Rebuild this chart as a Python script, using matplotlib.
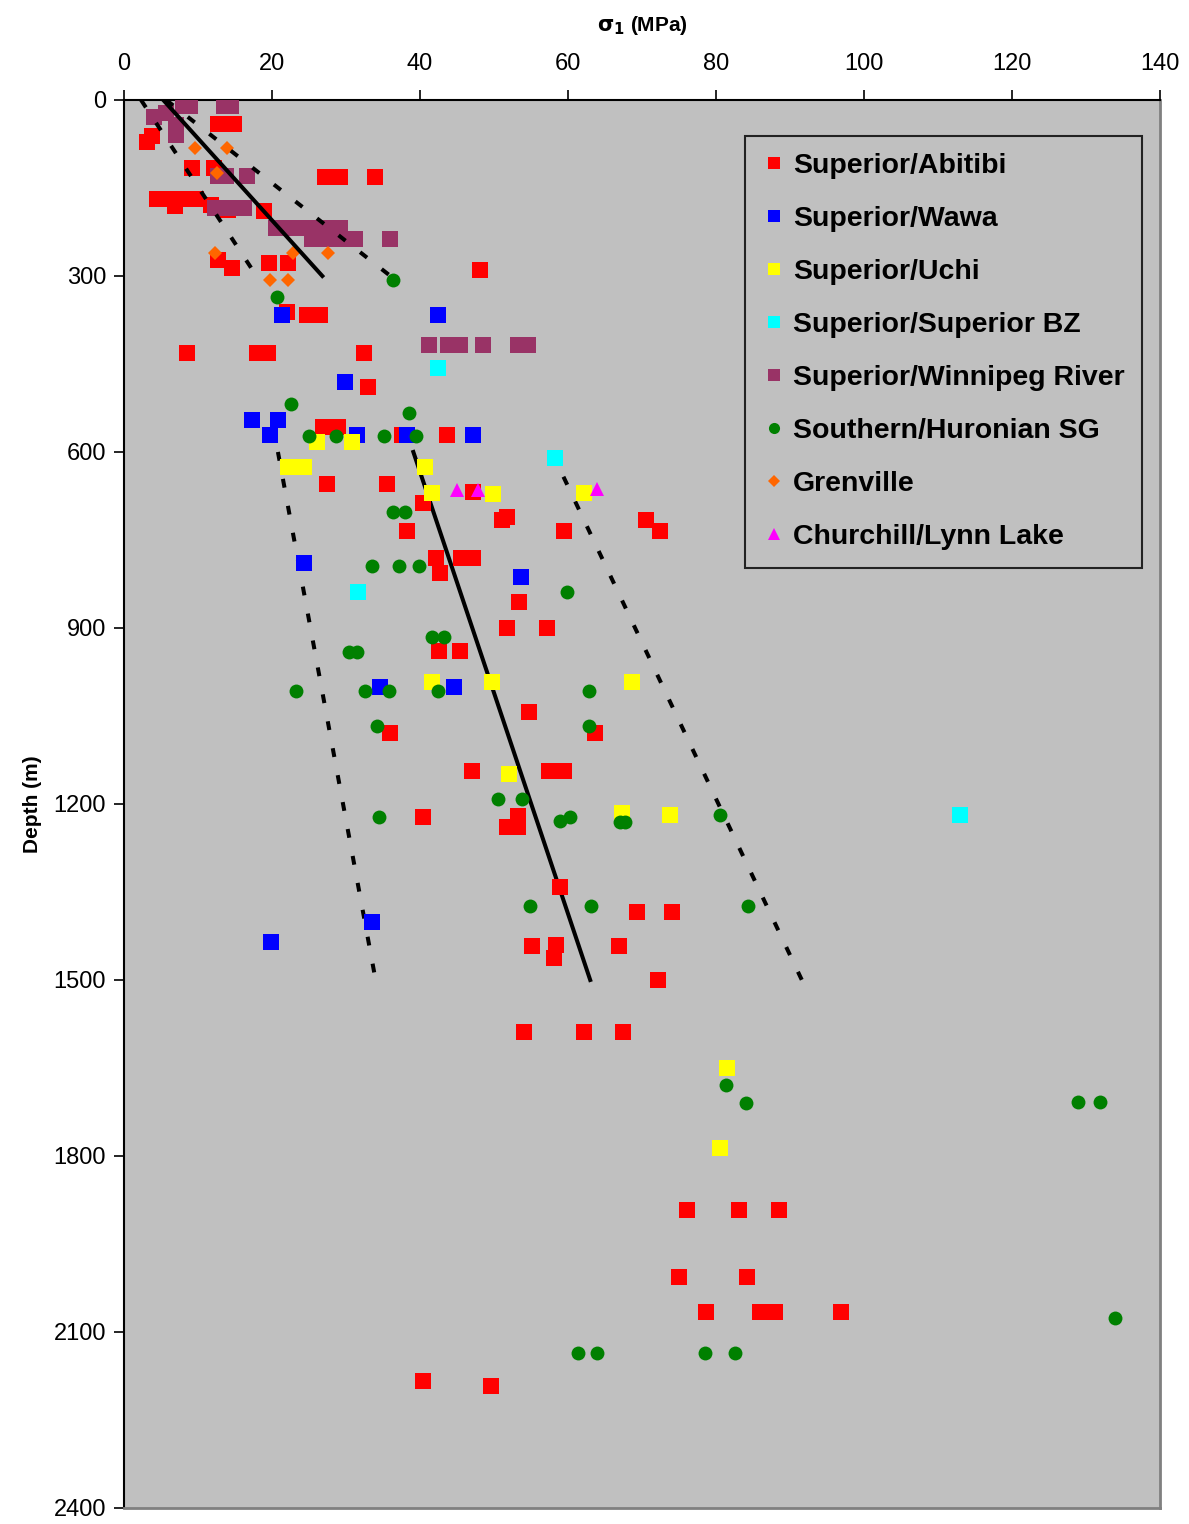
import matplotlib
matplotlib.use("Agg")
import matplotlib.pyplot as plt
from matplotlib.lines import Line2D

# sigma_1 (MPa) and depth (m) per region
abitibi_s = [12.7, 14.9, 3.8, 3.1, 9.2, 12.2, 27.2, 29.2, 33.9, 4.5, 6.6, 8.5, 9.7, 6.9, 11.8,
             14.1, 18.9, 12.7, 14.6, 19.6, 22.2, 48.1, 22.0, 24.7, 26.5, 8.5, 18.0, 19.5, 32.4,
             33.0, 26.9, 28.9, 37.5, 43.6, 27.4, 35.5, 47.2, 40.4, 51.8, 51.1, 38.2, 59.5, 70.5,
             72.4, 42.2, 45.5, 47.2, 42.7, 53.4, 51.8, 57.2, 42.6, 45.4, 54.7, 35.9, 63.6, 47.0,
             57.4, 59.5, 40.4, 53.2, 51.8, 53.2, 58.9, 69.3, 74.1, 55.1, 58.4, 58.1, 66.9, 72.2,
             54.1, 62.2, 67.4, 76.1, 83.1, 88.5, 75.0, 84.2, 78.6, 85.9, 88.0, 96.9, 40.4, 49.6]
abitibi_d = [41, 41, 61, 72, 116, 116, 131, 131, 131, 169, 169, 169, 169, 181, 179,
             187, 189, 273, 286, 278, 278, 290, 361, 366, 366, 431, 431, 431, 431,
             489, 557, 557, 571, 571, 655, 655, 668, 687, 711, 716, 735, 735, 716,
             735, 781, 781, 781, 806, 856, 900, 900, 939, 939, 1043, 1079, 1079, 1144,
             1144, 1144, 1222, 1220, 1239, 1239, 1341, 1384, 1384, 1442, 1440, 1462, 1442, 1500,
             1589, 1589, 1589, 1892, 1892, 1892, 2006, 2006, 2066, 2066, 2066, 2066, 2183, 2192]

wawa_s = [21.4, 42.4, 29.9, 17.3, 20.8, 19.7, 31.5, 38.2, 47.2, 24.3, 53.6, 34.6, 44.6, 33.5, 19.9]
wawa_d = [366, 366, 481, 545, 545, 571, 571, 571, 571, 789, 813, 1000, 1000, 1401, 1435]

uchi_s = [22.2, 23.2, 24.3, 26.1, 30.8, 40.7, 41.6, 49.9, 62.2, 41.6, 49.7, 68.6, 52.0,
          67.3, 73.8, 81.5, 80.5]
uchi_d = [626, 626, 626, 583, 583, 626, 670, 672, 670, 992, 992, 992, 1149,
          1215, 1218, 1650, 1786]

bz_s = [42.4, 58.2, 31.6, 113.0]
bz_d = [457, 610, 839, 1219]

winnipeg_s = [8.0, 8.9, 13.5, 14.5, 4.1, 5.7, 7.0, 7.0, 12.7, 13.8, 16.6, 12.3, 14.3, 16.2,
              20.5, 22.2, 23.8, 25.4, 27.0, 29.2, 25.4, 27.3, 29.2, 31.2, 35.9,
              41.2, 43.8, 45.4, 48.5, 53.2, 54.6]
winnipeg_d = [10, 10, 10, 10, 29, 22, 43, 60, 130, 130, 130, 184, 184, 184,
              218, 218, 218, 218, 218, 218, 237, 237, 237, 237, 237,
              418, 418, 418, 418, 418, 418]

huronian_s = [36.4, 20.7, 22.6, 38.5, 25.0, 28.6, 35.1, 39.5, 36.4, 38.0, 33.5, 37.2, 39.9,
              59.9, 41.6, 43.2, 30.4, 31.5, 23.2, 32.6, 35.8, 42.4, 62.8, 34.2, 62.8, 50.5,
              53.8, 34.5, 58.9, 60.3, 67.0, 67.7, 80.5, 54.9, 63.1, 84.3, 81.4, 84.1, 128.9,
              131.9, 133.9, 61.4, 63.9, 78.5, 82.6]
huronian_d = [307, 336, 518, 534, 573, 573, 573, 573, 702, 702, 794, 794, 794,
              839, 915, 915, 941, 941, 1007, 1007, 1007, 1007, 1007, 1067, 1067, 1191,
              1191, 1222, 1229, 1222, 1230, 1230, 1219, 1374, 1374, 1374, 1679, 1710, 1708,
              1708, 2076, 2136, 2136, 2136, 2136]

grenville_s = [9.6, 13.9, 12.6, 12.3, 22.8, 27.6, 19.7, 22.2]
grenville_d = [82, 82, 124, 261, 261, 261, 307, 307]

churchill_s = [45.0, 47.8, 63.9]
churchill_d = [665, 665, 663]

# trend lines (sigma, depth)
upper_mean = ([5.3, 26.8], [0, 300])
upper_lo = ([2.3, 17.9], [0, 300])
upper_hi = ([5.7, 36.0], [0, 300])
lower_mean = ([39.1, 63.0], [600, 1500])
lower_lo = ([20.8, 34.0], [600, 1500])
lower_hi = ([57.8, 91.6], [600, 1500])

series = [
    ("Superior/Abitibi", abitibi_s, abitibi_d, "s", "#FF0000", 11),
    ("Superior/Wawa", wawa_s, wawa_d, "s", "#0000FF", 11),
    ("Superior/Uchi", uchi_s, uchi_d, "s", "#FFFF00", 11),
    ("Superior/Superior BZ", bz_s, bz_d, "s", "#00FFFF", 11),
    ("Superior/Winnipeg River", winnipeg_s, winnipeg_d, "s", "#993366", 11),
    ("Southern/Huronian SG", huronian_s, huronian_d, "o", "#008000", 10),
    ("Grenville", grenville_s, grenville_d, "D", "#FF6600", 7.5),
    ("Churchill/Lynn Lake", churchill_s, churchill_d, "^", "#FF00FF", 10),
]

narrow = ["Liberation Sans Narrow", "Liberation Sans", "DejaVu Sans"]

fig = plt.figure(figsize=(11.89, 15.24), dpi=100)
ax = fig.add_axes([0.1043, 0.0105, 0.8713, 0.9239])
ax.set_facecolor("#C0C0C0")

for name, xs, ds, m, c, ms in series:
    ax.plot(xs, ds, linestyle="none", marker=m, color=c, markersize=ms,
            markeredgewidth=0, label=name, zorder=3)

dash = dict(color="black", lw=2.9, linestyle=(0, (2.2, 4.6)), solid_capstyle="butt")
for xs, ds in [upper_lo, upper_hi]:
    ax.plot(xs, ds, zorder=4, **dash)
ax.plot(*upper_mean, color="black", lw=2.9, zorder=4)
for xs, ds in [lower_lo, lower_hi]:
    ax.plot(xs, ds, zorder=2, **dash)
ax.plot(*lower_mean, color="black", lw=2.9, zorder=2)

ax.set_xlim(0, 140)
ax.set_ylim(2400, 0)
ax.set_xticks(range(0, 141, 20))
ax.set_yticks(range(0, 2401, 300))
ax.xaxis.tick_top()
ax.xaxis.set_label_position("top")
ax.tick_params(axis="x", direction="out", length=7, width=1.2, pad=11, labelsize=17)
ax.tick_params(axis="y", direction="out", length=7, width=1.2, pad=6, labelsize=17)
for lab in ax.get_xticklabels() + ax.get_yticklabels():
    lab.set_family(narrow)

ax.spines["top"].set_linewidth(1.5)
ax.spines["left"].set_linewidth(1.5)
ax.spines["right"].set_color("#808080")
ax.spines["bottom"].set_color("#808080")
ax.spines["right"].set_linewidth(2)
ax.spines["bottom"].set_linewidth(2)

ax.set_xlabel(r"$\mathbf{\sigma_1}$ (MPa)", fontsize=15, fontweight="bold",
              family=narrow, labelpad=16)
ax.set_ylabel("Depth (m)", fontsize=15, fontweight="bold", family=narrow, labelpad=8)

handles = [Line2D([], [], linestyle="none", marker=m, color=c, markersize=ms * 0.8,
                  markeredgewidth=0) for _, _, _, m, c, ms in series]
leg = ax.legend(handles, [s[0] for s in series], loc="upper right",
                bbox_to_anchor=(0.9826, 0.9744), frameon=True, fancybox=False,
                facecolor="#C0C0C0", edgecolor="#222222", framealpha=1,
                prop={"family": "Liberation Sans", "weight": "bold", "size": 20.5},
                labelspacing=0.95, handlelength=0.84, handletextpad=0.25,
                borderpad=0.6, borderaxespad=0)
leg.get_frame().set_linewidth(1.5)

fig.savefig("out.png", dpi=100)
